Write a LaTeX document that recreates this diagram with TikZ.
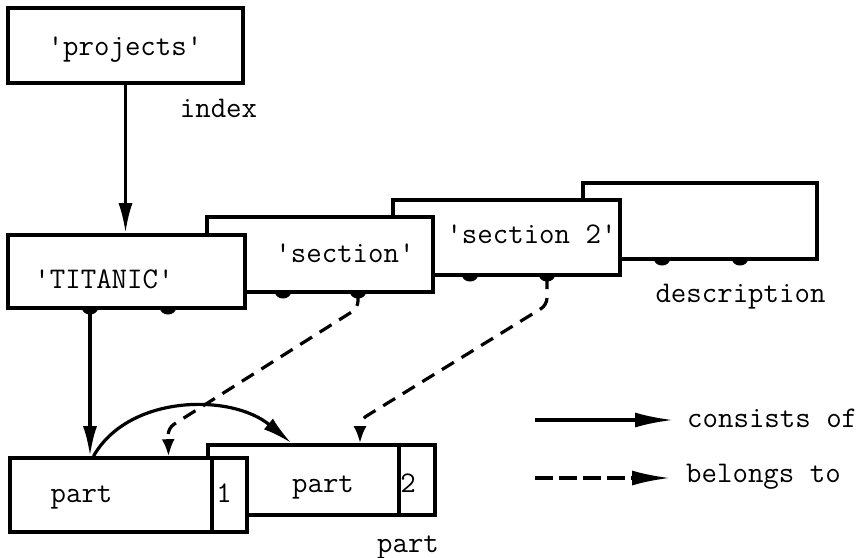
\documentclass[tikz,border=0pt]{standalone}
\usetikzlibrary{arrows.meta,positioning,shapes.geometric}
\begin{document}
\begin{tikzpicture}[x=1pt,y=-1pt,font=\fontsize{30}{32}\selectfont\ttfamily,
  box/.style={draw,line width=3.6pt,fill=white,inner sep=0pt},
  txt/.style={inner sep=0pt,anchor=base},
  knob/.style={fill,ellipse,inner sep=0pt,minimum width=16pt,minimum height=13pt},
  cons/.style={-{Latex[length=30pt,width=14pt]},line width=3.2pt},
  belo/.style={-{Latex[length=17pt,width=13pt]},line width=3.2pt,dash pattern=on 14pt off 9pt,rounded corners=7pt}]
\useasboundingbox (0,0) rectangle (861,557);
% description stack, back to front
\node[knob] (d-k1) at (662,259) {};
\node[knob] (d-k2) at (740,259) {};
\node[box,minimum width=234pt,minimum height=76pt] (desc) at (700,221) {};
\node[knob] (s2-k1) at (470,275) {};
\node[knob] (s2-k2) at (547,275) {};
\node[box,minimum width=227pt,minimum height=75pt] (sec2) at (506.5,237.5) {};
\node[knob] (s-k1) at (283,292) {};
\node[knob] (s-k2) at (358,292) {};
\node[box,minimum width=226pt,minimum height=75pt] (sec) at (320,254.5) {};
\node[knob] (t-k1) at (90,308) {};
\node[knob] (t-k2) at (168,308) {};
\node[box,minimum width=237pt,minimum height=73pt] (titanic) at (126.5,271.5) {};
\node[box,minimum width=235pt,minimum height=75pt] (proj) at (125.5,45.5) {};
\node[txt] (proj-t) at (125,55) {'projects'};
\node[txt] (index) at (218.5,117) {index};
\node[txt] (titanic-t) at (104,288) {'TITANIC'};
\node[txt] (sec-t) at (345,262) {'section'};
\node[txt] (sec2-t) at (531.5,243) {'section 2'};
\node[txt] (desc-t) at (740.5,302) {description};
% parts
\node[box,minimum width=227pt,minimum height=70pt] (part2) at (321.5,480) {};
\draw[line width=3.6pt] ([xshift=-38pt]part2.north east) -- ([xshift=-38pt]part2.south east);
\node[box,minimum width=237pt,minimum height=74pt] (part1) at (128.5,495) {};
\draw[line width=3.6pt] ([xshift=-37pt]part1.north east) -- ([xshift=-37pt]part1.south east);
\node[txt] (part1-t) at (81.5,502) {part};
\node[txt] (part1-n) at (224,502) {1};
\node[txt] (part2-t) at (323,492) {part};
\node[txt] (part2-n) at (408,492) {2};
\node[txt] (part-l) at (408,552) {part};
% connectors
\draw[cons] (proj.south) -- (proj.south |- titanic.north);
\draw[cons] (t-k1.center) -- (t-k1 |- part1.north);
\draw[cons] ([xshift=-35pt]part1.north) .. controls +(35,-62) and +(-60,-50) .. ([xshift=-30pt]part2.north);
\draw[belo] (s-k2.center) -- ++(0,16) -- ++(-190,120) -- ([xshift=40pt]part1.north);
\draw[belo] (s2-k2.center) -- ++(0,30) -- ++(-187,115) -- ([xshift=38.5pt]part2.north);
% legend
\node[txt,anchor=base west] (cons-t) at (687,427) {consists of};
\node[txt,anchor=base west] (belo-t) at (686,482) {belongs to};
\coordinate (cons-s) at (535,420);
\coordinate (belo-s) at (535,478);
\draw[cons,-{Latex[length=38pt,width=15pt]}] (cons-s) -- ([xshift=-14pt]cons-s -| cons-t.west);
\draw[belo,-{Latex[length=38pt,width=15pt]},dash pattern=on 18pt off 6pt] (belo-s) -- ([xshift=-16pt]belo-s -| belo-t.west);
\end{tikzpicture}
\end{document}
